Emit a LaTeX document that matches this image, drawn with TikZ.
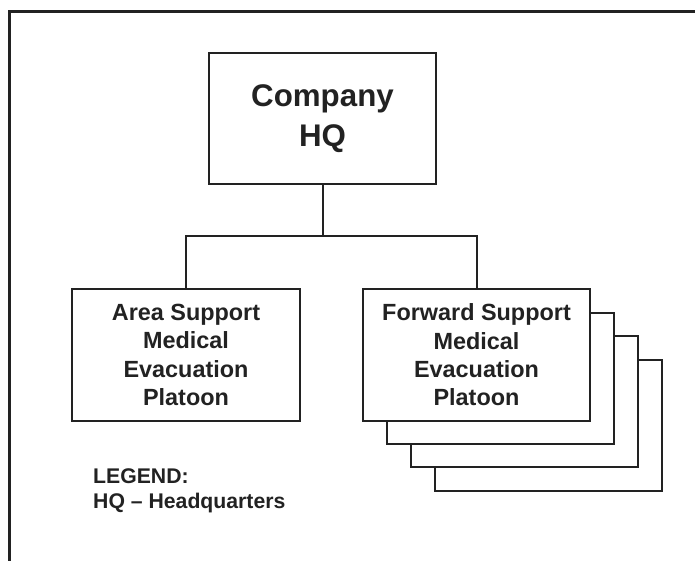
\documentclass[tikz,border=0pt]{standalone}
\usepackage{fontspec}
\setmainfont{Liberation Sans}
\usepackage{xcolor}
\definecolor{Col1}{RGB}{34,34,34}
\usepackage{tikz}
\usetikzlibrary{positioning}
\tikzstyle{Unit}=[rectangle,draw=Col1,fill=white,line width=2bp,
minimum width=227bp,minimum height=131bp,inner sep=0pt,align=center,
font=\bfseries\fontsize{23.5}{28.5}\selectfont,text=Col1]
\tikzstyle{Top}=[Unit,font=\bfseries\fontsize{31.4}{39.5}\selectfont]
\tikzstyle{Edge}=[draw=Col1,line width=2bp]
\tikzstyle{Frame}=[draw=Col1,line width=3bp]
\tikzstyle{NodeLG}=[inner sep=0pt,text=Col1,font=\bfseries\fontsize{21.3}{25}\selectfont]
\begin{document}
\begin{tikzpicture}[x=1bp,y=-1bp]
        \useasboundingbox (0,0) rectangle (695,561);
        \draw[Frame](9.5,561)--(9.5,11.5)--(695,11.5);
        \node[Top](hq)at(322.5,118.5){Company\\HQ};
        \node[Unit](fs3)at(548.5,425.5){};
        \node[Unit](fs2)at(524.5,401.5){};
        \node[Unit](fs1)at(500.5,378.0){};
        \node[Unit](asmp)at(186.0,355.0){Area Support\\Medical\\Evacuation\\Platoon};
        \node[Unit](fsmp)at(476.5,355.0){Forward Support\\Medical\\Evacuation\\Platoon};
        \coordinate(bus)at(323,236);
        \draw[Edge](hq.south)--(hq.south|-bus);
        \draw[Edge](asmp.north)--(asmp.north|-bus)--(fsmp.north|-bus)--(fsmp.north);
        \node[NodeLG,anchor=base west](lg)at(93,483){LEGEND:};
        \node[NodeLG,anchor=base west](lghq)at(93,508){HQ – Headquarters};
    \end{tikzpicture}
\end{document}
